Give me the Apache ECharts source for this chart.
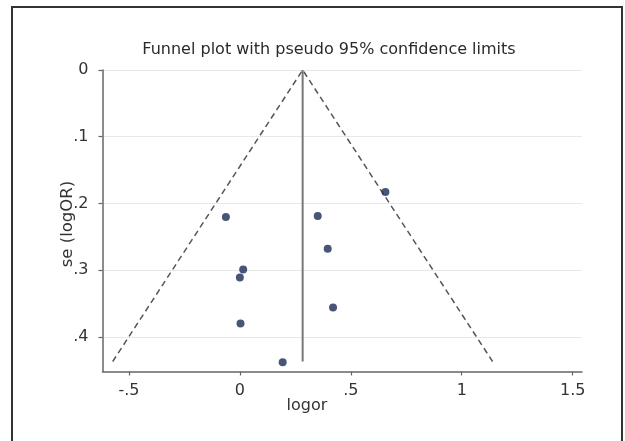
<!DOCTYPE html>
<html>
<head>
<meta charset="utf-8">
<script src="https://cdn.jsdelivr.net/npm/echarts@6/dist/echarts.min.js"></script>
<style>html,body{margin:0;padding:0;background:#fff;}#c{width:625px;height:441px;}</style>
</head>
<body>
<div id="c"></div>
<script>
// Study estimates (logOR, se)
var studyLogOR = [-0.063, 0.015, 0.000, 0.003, 0.193, 0.351, 0.396, 0.420, 0.656];
var studySE    = [0.2205, 0.299, 0.311, 0.380, 0.438, 0.219, 0.268, 0.356, 0.183];
// Pooled estimate and pseudo 95% limits
var pooledX = [0.283, 0.283];
var pooledY = [0, 0.437];
var limitX = [-0.573, 0.283, 1.139];
var limitY = [0.437, 0, 0.437];
// Ticks
var xTickValues = [-0.5, 0, 0.5, 1, 1.5];
var xTickLabels = ['-.5', '0', '.5', '1', '1.5'];
var yTickValues = [0, 0.1, 0.2, 0.3, 0.4];
var yTickLabels = ['0', '.1', '.2', '.3', '.4'];
var titleText = 'Funnel plot with pseudo 95% confidence limits';
var xName = 'logor';
var yName = 'se (logOR)';

function zip(a, b) { return a.map(function (v, i) { return [v, b[i]]; }); }
function lab(vals, labels) {
  return function (v) {
    for (var i = 0; i < vals.length; i++) if (Math.abs(vals[i] - v) < 1e-9) return labels[i];
    return '';
  };
}
var font = '"DejaVu Sans", Arial, sans-serif';
var chart = echarts.init(document.getElementById('c'), null, {renderer: 'canvas'});
chart.setOption({
  animation: false,
  backgroundColor: '#fff',
  grid: {left: 102.5, right: 43, top: 70, bottom: 69.5, containLabel: false},
  xAxis: {
    type: 'value', min: -0.619, max: 1.542,
    axisLine: {show: true, onZero: false, lineStyle: {color: '#666', width: 1.5}},
    axisTick: {show: true, length: 4, lineStyle: {color: '#666', width: 1.2}, customValues: xTickValues},
    axisLabel: {customValues: xTickValues, formatter: lab(xTickValues, xTickLabels), color: '#333', fontSize: 16, fontFamily: font, margin: 11},
    splitLine: {show: false}
  },
  yAxis: {
    type: 'value', inverse: true, min: 0, max: 0.452,
    axisLine: {show: true, onZero: false, lineStyle: {color: '#666', width: 1.5}},
    axisTick: {show: true, length: 4, lineStyle: {color: '#666', width: 1.2}, customValues: yTickValues},
    axisLabel: {customValues: yTickValues, formatter: lab(yTickValues, yTickLabels), color: '#333', fontSize: 16, fontFamily: font, margin: 14},
    splitLine: {show: true, lineStyle: {color: '#e8e8e8', width: 1}}
  },
  graphic: [
    {type: 'rect', shape: {x: 12, y: 7, width: 610, height: 450}, style: {fill: 'none', stroke: '#333', lineWidth: 2}, silent: true},
    {type: 'text', x: 329, y: 50, style: {text: titleText, font: '16px ' + font, fill: '#2a2a2a', align: 'center', verticalAlign: 'middle'}},
    {type: 'text', x: 307, y: 406, style: {text: xName, font: '16px ' + font, fill: '#333', align: 'center', verticalAlign: 'middle'}},
    {type: 'text', x: 68, y: 224, rotation: Math.PI / 2, style: {text: yName, font: '16.5px ' + font, fill: '#333', align: 'center', verticalAlign: 'middle'}}
  ],
  series: [
    {type: 'line', data: zip(limitX, limitY), symbol: 'none', lineStyle: {color: '#555', width: 1.5, type: [6, 4]}, z: 2},
    {type: 'line', data: zip(pooledX, pooledY), symbol: 'none', lineStyle: {color: '#777', width: 2}, z: 2},
    {type: 'scatter', data: zip(studyLogOR, studySE), symbol: 'circle', symbolSize: 8, itemStyle: {color: '#1a2b55'}, z: 3}
  ]
});
</script>
</body>
</html>
